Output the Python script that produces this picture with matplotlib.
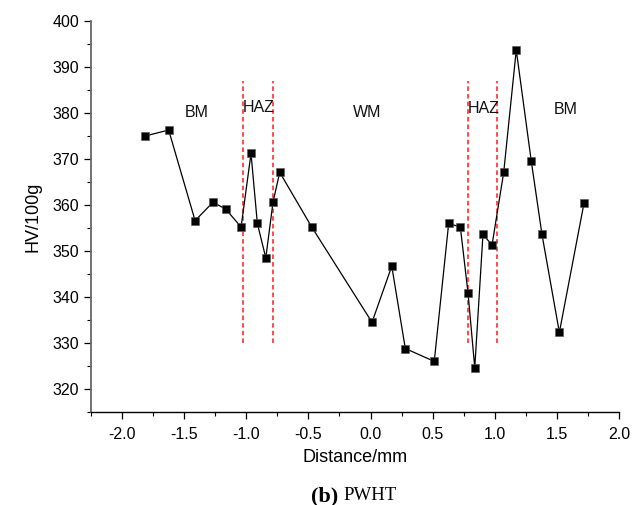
import matplotlib
matplotlib.use("Agg")
import matplotlib.pyplot as plt
from matplotlib.ticker import MultipleLocator

distance = [-1.813, -1.625, -1.412, -1.268, -1.165, -1.042, -0.962, -0.911, -0.843,
            -0.785, -0.731, -0.473, 0.012, 0.171, 0.280, 0.513, 0.629, 0.723,
            0.785, 0.839, 0.905, 0.978, 1.072, 1.173, 1.294, 1.380, 1.520, 1.719]
hardness = [375.0, 376.3, 356.6, 360.6, 359.1, 355.2, 371.2, 356.0, 348.5,
            360.6, 367.1, 355.2, 334.5, 346.7, 328.8, 326.0, 356.0, 355.2,
            340.8, 324.6, 353.6, 351.3, 367.1, 393.7, 369.5, 353.6, 332.3, 360.5]

boundaries = [-1.028, -0.782, 0.787, 1.020]
boundary_ymin, boundary_ymax = 330, 387

zone_labels = ["BM", "HAZ", "WM", "HAZ", "BM"]
zone_x = [-1.40, -0.90, -0.024, 0.909, 1.571]
zone_y = [380.2, 381.3, 380.2, 381.0, 380.7]

xticks = [-2.0, -1.5, -1.0, -0.5, 0.0, 0.5, 1.0, 1.5, 2.0]
yticks = [320, 330, 340, 350, 360, 370, 380, 390, 400]

plt.rcParams['font.family'] = ['Liberation Sans', 'DejaVu Sans']

fig = plt.figure(figsize=(6.42, 5.05), dpi=100)
ax = fig.add_axes([91/642, 1 - 412/505, (619-91)/642, (412-21)/505])

ax.plot(distance, hardness, color='black', linewidth=0.9, marker='s',
        markersize=6.3, markerfacecolor='black', markeredgecolor='#555555',
        markeredgewidth=0.4, zorder=3)

for b in boundaries:
    ax.plot([b, b], [boundary_ymin, boundary_ymax], color='#ff1a1a',
            linestyle=(0, (3, 2)), linewidth=1.1, zorder=2)

for lab, x, y in zip(zone_labels, zone_x, zone_y):
    ax.text(x, y, lab, ha='center', va='center', fontsize=11.5, color='#111111')

ax.set_xlim(-2.25, 2.0)
ax.set_ylim(315, 400)
ax.set_xticks(xticks)
ax.set_xticklabels([f"{t:.1f}" for t in xticks])
ax.set_yticks(yticks)
ax.xaxis.set_minor_locator(MultipleLocator(0.25))
ax.yaxis.set_minor_locator(MultipleLocator(5))

ax.spines['top'].set_visible(False)
ax.spines['right'].set_visible(False)
ax.spines['left'].set_color('#666666')
ax.spines['left'].set_linewidth(1.3)
ax.spines['bottom'].set_linewidth(1.0)

ax.tick_params(axis='both', which='major', direction='out', length=5,
               width=0.9, labelsize=11.5, colors='black')
ax.tick_params(axis='both', which='minor', direction='out', length=2.8, width=0.8)
ax.tick_params(axis='x', pad=6)

ax.set_xlabel("Distance/mm", fontsize=13, labelpad=5)
ax.set_ylabel("HV/100g", fontsize=13, labelpad=8)

fig.text(338/642, 1 - 496/505, "(b)", ha='right', va='center', fontsize=16,
         family='Liberation Serif', weight='bold')
fig.text(343/642, 1 - 495/505, "PWHT", ha='left', va='center', fontsize=13.5,
         family='Liberation Serif')

fig.savefig("out.png", dpi=100)
